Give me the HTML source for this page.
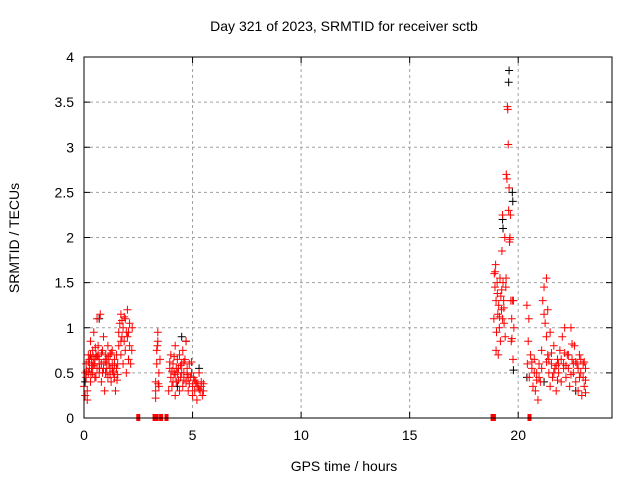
<!DOCTYPE html>
<html><head><meta charset="utf-8"><style>
body{margin:0;background:#fff}
svg text{font-family:"Liberation Sans",sans-serif;font-size:14px;fill:#000}
</style></head><body>
<svg id="chart" width="640" height="480" xmlns="http://www.w3.org/2000/svg">
<rect width="640" height="480" fill="#fff"/>
<g id="grid"></g>
<g id="ticks"></g>
<g id="blackS"></g>
<g id="redS"></g>
<rect x="84" y="57" width="528" height="361" fill="none" stroke="#000" stroke-width="1"/>
<text x="344" y="31" text-anchor="middle">Day 321 of 2023, SRMTID for receiver sctb</text>
<text x="344" y="471" text-anchor="middle">GPS time / hours</text>
<text transform="translate(19,238) rotate(-90)" text-anchor="middle">SRMTID / TECUs</text>
</svg>
<script>
const xTicks=[0,5,10,15,20];
const yTicks=[0,0.5,1,1.5,2,2.5,3,3.5,4];
const yTickLabels=["0","0.5","1","1.5","2","2.5","3","3.5","4"];
const redPoints=[
[0.0,0.35],[0.05,0.25],[0.1,0.45],[0.1,0.6],[0.15,0.3],[0.2,0.5],[0.2,0.7],[0.25,0.55],[0.3,0.4],[0.3,0.85],[0.35,0.65],[0.4,0.5],[0.4,0.75],[0.45,0.95],[0.5,0.6],[0.5,0.45],[0.55,0.7],[0.6,0.55],[0.6,1.1],[0.65,0.8],[0.7,0.65],[0.7,0.5],[0.75,1.15],[0.8,0.6],[0.8,0.4],[0.85,0.75],[0.9,0.55],[0.9,0.9],[0.95,0.3],[1.0,0.7],[1.0,0.5],[1.05,0.65],[1.1,0.8],[1.1,0.45],[1.15,0.6],[1.2,0.7],[1.2,0.55],[1.25,0.4],[1.3,0.75],[1.3,0.6],[1.35,0.5],[1.4,0.45],[1.4,0.65],[1.45,0.3],[1.5,0.55],[1.5,0.7],[1.55,0.6],[1.6,0.95],[1.6,0.8],[1.65,1.05],[1.7,0.7],[1.7,1.15],[1.75,0.9],[1.8,0.6],[1.8,1.0],[1.85,0.85],[1.9,1.1],[1.9,0.75],[1.95,0.5],[2.0,1.2],[2.0,0.9],[2.05,0.65],[2.1,1.05],[2.1,0.8],[2.15,0.6],[0.3,0.7],[0.5,0.65],[0.7,0.6],[1.0,0.5],[1.3,0.55],[0.15,0.2],[0.35,0.55],[0.55,0.45],[0.25,0.65],[0.45,0.6],[0.65,0.7],
[0.2,0.62],[0.4,0.58],[0.6,0.68],[0.8,0.72],[1.0,0.62],[1.2,0.48],[1.4,0.58],[1.7,0.85],[1.85,1.12],[1.95,0.95],[0.12,0.52],[0.32,0.48],[0.52,0.78],[0.72,0.55],[0.92,0.62],[1.12,0.68],[1.32,0.52],[1.52,0.42],[1.75,1.08],[2.05,0.95],[0.05,0.5],[0.85,0.5],[1.05,0.55],[1.25,0.72],[1.55,0.48],[0.42,0.68],[2.2,0.75],[2.22,1.0],
[3.3,0.3],[3.3,0.4],[3.35,0.6],[3.35,0.75],[3.4,0.95],[3.4,0.85],[3.45,0.5],[3.45,0.35],[3.5,0.65],[3.3,0.22],[3.38,0.8],[3.42,0.38],
[3.9,0.3],[3.95,0.55],[4.0,0.7],[4.0,0.45],[4.05,0.35],[4.1,0.6],[4.15,0.5],[4.2,0.25],[4.2,0.8],[4.25,0.4],[4.3,0.65],[4.35,0.55],[4.4,0.3],[4.4,0.7],[4.45,0.45],[4.5,0.6],[4.55,0.35],[4.55,0.75],[4.6,0.5],[4.65,0.65],[4.7,0.4],[4.7,0.85],[4.75,0.55],[4.8,0.3],[4.85,0.6],[4.9,0.45],[4.95,0.5],[5.0,0.35],[5.0,0.25],[5.05,0.45],[5.1,0.3],[5.15,0.4],[5.2,0.2],[5.25,0.35],[5.3,0.5],[5.35,0.3],[5.4,0.4],[5.45,0.25],[4.1,0.4],[4.3,0.5],[4.5,0.5],[4.8,0.45],
[3.95,0.62],[4.05,0.52],[4.15,0.68],[4.25,0.55],[4.35,0.42],[4.45,0.58],[4.6,0.62],[4.75,0.48],[4.85,0.38],[4.95,0.62],[5.1,0.42],[5.2,0.38],[5.3,0.32],[5.4,0.35],[4.2,0.48],[4.6,0.42],[5.5,0.38],[5.5,0.3],
[18.88,1.1],[18.9,1.6],[18.93,1.45],[18.96,1.7],[18.98,1.3],[19.0,0.95],[19.03,1.5],[19.06,1.15],[19.08,0.7],[19.1,1.25],[19.13,1.0],[19.16,1.55],[19.18,0.85],[19.2,1.35],[19.23,1.2],[19.25,1.85],[19.28,2.25],[19.3,1.5],[19.33,1.3],[19.35,1.05],[19.38,2.0],[19.4,0.9],[19.43,1.45],[19.45,2.7],[19.48,2.65],[19.5,3.45],[19.52,3.42],[19.54,3.03],[19.56,2.3],[19.58,2.55],[19.6,1.95],[19.62,2.0],[19.64,2.25],[19.66,1.3],[19.68,0.85],[19.7,1.1],[19.73,1.3],[19.76,0.65],[18.98,0.75],[19.28,1.1],
[18.94,1.62],[19.04,1.38],[19.14,1.12],[19.24,1.42],[19.34,1.22],[19.44,1.55],[19.61,1.98],[19.71,0.88],[19.8,1.0],[19.78,1.3],
[20.4,1.25],[20.42,0.6],[20.46,0.85],[20.49,1.1],[20.51,0.45],[20.57,0.7],[20.63,0.55],[20.68,0.35],[20.74,0.65],[20.79,0.3],[20.85,0.5],[20.91,0.2],[20.96,0.6],[21.02,0.4],[21.08,0.75],[21.13,1.3],[21.19,1.45],[21.19,1.15],[21.24,1.05],[21.3,0.9],[21.3,1.55],[21.36,0.7],[21.41,0.5],[21.47,0.35],[21.53,0.6],[21.58,0.45],[21.64,0.8],[21.69,0.55],[21.75,0.3],[21.81,0.65],[21.86,0.5],[21.92,0.75],[21.98,0.4],[22.03,0.9],[22.09,0.6],[22.14,1.0],[22.2,0.45],[22.26,0.7],[22.31,0.55],[22.37,0.35],[22.43,1.0],[22.48,0.65],[22.54,0.5],[22.59,0.8],[22.65,0.4],[22.71,0.6],[22.76,0.3],[22.82,0.7],[22.88,0.5],[22.93,0.25],[22.99,0.45],[23.04,0.35],[23.1,0.55],[21.41,0.65],[21.64,0.5],[21.86,0.6],[22.09,0.55],[22.31,0.7],[22.54,0.6],[22.76,0.55],[22.99,0.6],[20.74,0.5],[20.96,0.45],
[20.63,0.62],[20.85,0.42],[21.08,0.55],[21.3,0.62],[21.53,0.72],[21.75,0.58],[21.98,0.65],[22.2,0.58],[22.43,0.48],[22.65,0.62],[22.88,0.65],[23.1,0.42],[21.36,1.2],[21.47,0.95],[21.81,0.42],[22.14,0.72],[22.48,0.82],[22.82,0.45],[23.04,0.62],[23.1,0.28]
];
const zeroMarks=[2.5,3.25,3.35,3.55,3.8,18.82,18.88,20.52];
const blackPoints=[[19.58,3.85],[19.56,3.72],[19.28,2.2],[19.3,2.1],[19.73,2.5],[19.75,2.4],[19.78,0.53],[4.5,0.9],[4.7,0.85],[0.05,0.4],[0.7,1.1],[22.65,0.3],[21.19,0.4],[20.4,0.45],[5.3,0.55],[4.3,0.35]];
const X0=84,X1=612,XMAX=24.32,Y0=418,Y1=57,YMAX=4;
function xs(t){return X0+(X1-X0)*t/XMAX;}
function ys(v){return Y0-(Y0-Y1)*v/YMAX;}
const NS="http://www.w3.org/2000/svg";
function mk(tag,attrs,parent){const e=document.createElementNS(NS,tag);for(const k in attrs)e.setAttribute(k,attrs[k]);parent.appendChild(e);return e;}
const grid=document.getElementById('grid'),ticks=document.getElementById('ticks');
xTicks.forEach(t=>{const x=xs(t);
 if(t>0){const g=mk('line',{x1:x,x2:x,y1:Y1,y2:Y0,stroke:'#a0a0a0','stroke-dasharray':'3,3'},grid);
 
 }
 mk('line',{x1:x,x2:x,y1:Y0,y2:Y0-6,stroke:'#000'},ticks);mk('line',{x1:x,x2:x,y1:Y1,y2:Y1+6,stroke:'#000'},ticks);
 const l=mk('text',{x:x,y:Y0+22,'text-anchor':'middle'},ticks);l.textContent=t;
 
 
});
yTicks.forEach((v,i)=>{const y=ys(v);
 if(v>0&&v<YMAX){const g=mk('line',{x1:X0,x2:X1,y1:y,y2:y,stroke:'#a0a0a0','stroke-dasharray':'3,3'},grid);
 
 }
 mk('line',{x1:X0,x2:X0+6,y1:y,y2:y,stroke:'#000'},ticks);mk('line',{x1:X1,x2:X1-6,y1:y,y2:y,stroke:'#000'},ticks);
 const l=mk('text',{x:X0-10,y:y+5,'text-anchor':'end'},ticks);l.textContent=yTickLabels[i];
 
 
});
function drawSeries(pts,parent,color,name){pts.forEach(p=>{const x=xs(p[0]),y=ys(p[1]);
 const m=mk('path',{d:`M${x-4},${y}H${x+4}M${x},${y-4}V${y+4}`,stroke:color,'stroke-width':1,fill:'none'},parent);
 
 
});}
drawSeries(blackPoints,document.getElementById('blackS'),'#000','black-point');
drawSeries(redPoints,document.getElementById('redS'),'#f00','red-point');
const redG=document.getElementById('redS');
zeroMarks.forEach(t=>{const x=xs(t),y=ys(0);
 const r=mk('rect',{x:x-2,y:y-4,width:4,height:7,fill:'#f00'},redG);
 
 
});
</script>
</body></html>
